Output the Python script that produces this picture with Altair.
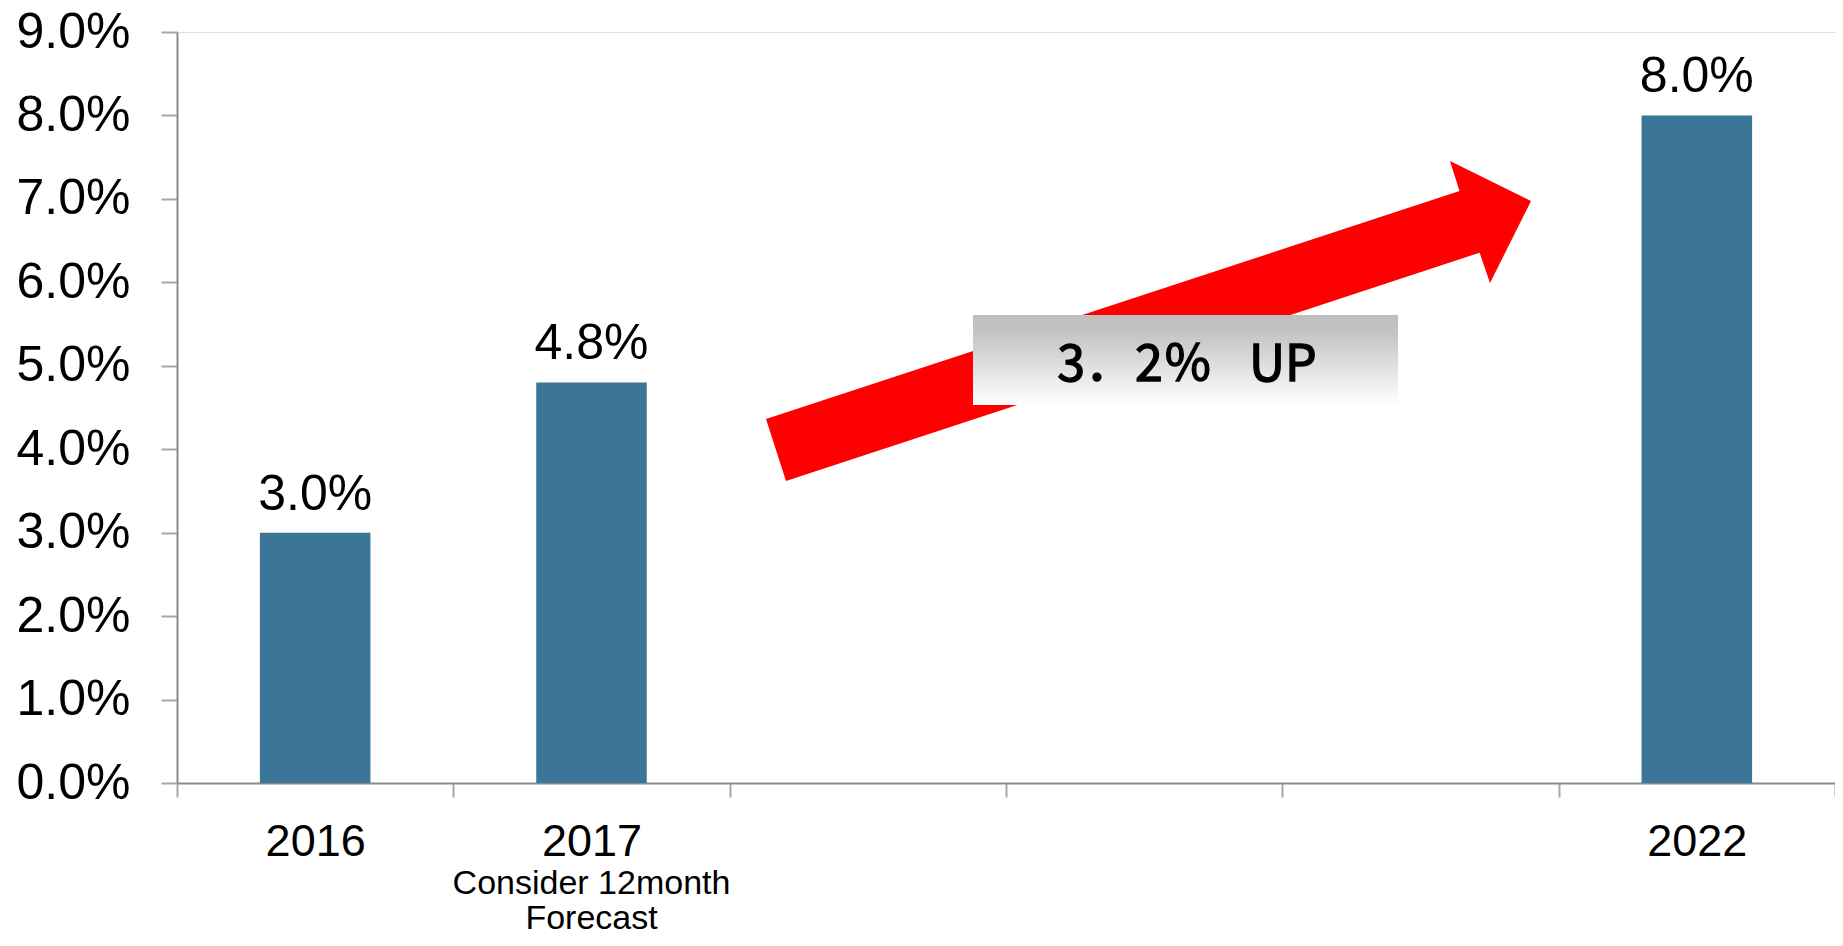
import altair as alt
import pandas as pd

# ---- data ----
categories = ["2016", "2017", " ", "  ", "   ", "2022"]
bar_years = ["2016", "2017", "2022"]
bar_values = [0.030, 0.048, 0.080]
bar_labels = ["3.0%", "4.8%", "8.0%"]
y_ticks = [0.00, 0.01, 0.02, 0.03, 0.04, 0.05, 0.06, 0.07, 0.08, 0.09]
note_years = ["2017"]
note_texts = ["Consider 12month\nForecast"]
callout_text = ["3．2％\u2002 UP"]

W, H = 1658, 751
FONT = "Liberation Sans"

bars_df = pd.DataFrame({"year": bar_years, "value": bar_values, "label": bar_labels})
note_df = pd.DataFrame({"year": note_years, "note": note_texts})
callout_df = pd.DataFrame({"text": callout_text})

x_enc = alt.X(
    "year:N",
    scale=alt.Scale(domain=categories, paddingInner=0, paddingOuter=0),
    sort=categories,
    axis=alt.Axis(
        title=None,
        labelAngle=0,
        labelFont=FONT,
        labelFontSize=45,
        labelColor="#000000",
        labelPadding=22,
        tickBand="extent",
        tickSize=14,
        tickWidth=2,
        tickColor="#a6a6a6",
        domainColor="#8a8a8a",
        domainWidth=2,
        grid=False,
    ),
)

y_enc = alt.Y(
    "value:Q",
    scale=alt.Scale(domain=[0, 0.09], nice=False, zero=True),
    axis=alt.Axis(
        title=None,
        values=y_ticks,
        format=".1%",
        labelFont=FONT,
        labelFontSize=50,
        labelColor="#000000",
        labelPadding=31,
        tickSize=16,
        tickWidth=2,
        tickColor="#a6a6a6",
        domainColor="#8a8a8a",
        domainWidth=2,
        grid=False,
    ),
)

bars = alt.Chart(bars_df).mark_bar(width={"band": 0.4}, color="#3b7699").encode(
    x=x_enc, y=y_enc
)

bar_text = alt.Chart(bars_df).mark_text(
    baseline="alphabetic", dy=-23, font=FONT, fontSize=50, color="#000000"
).encode(x=alt.X("year:N", sort=categories), y="value:Q", text="label:N")

notes = alt.Chart(note_df).mark_text(
    baseline="alphabetic", lineBreak="\n", lineHeight=35, font=FONT, fontSize=34,
    color="#000000",
).encode(x=alt.X("year:N", sort=categories), y=alt.value(862), text="note:N")

arrow_path = ("M -382 97 L 311.5 -131 L 302 -161 L 383 -121 "
              "L 342 -39 L 331.6 -69.3 L -362 159 Z")
arrow = alt.Chart(callout_df).mark_point(
    shape=arrow_path, size=4, filled=True, color="#ff0000", opacity=1, strokeWidth=0
).encode(x=alt.value(971), y=alt.value(290))

box = alt.Chart(callout_df).mark_rect(
    color=alt.LinearGradient(
        gradient="linear",
        stops=[
            alt.GradientStop(color="#bebebe", offset=0),
            alt.GradientStop(color="#c4c4c4", offset=0.2),
            alt.GradientStop(color="#ffffff", offset=1),
        ],
        x1=0, x2=0, y1=0, y2=1,
    )
).encode(x=alt.value(796), x2=alt.value(1221), y=alt.value(283), y2=alt.value(373))

box_text = alt.Chart(callout_df).mark_text(
    baseline="alphabetic", align="center", font="Noto Sans CJK JP", fontSize=50,
    color="#000000", stroke="#000000", strokeWidth=1.4,
).encode(x=alt.value(1010), y=alt.value(349), text="text:N")

chart = (
    alt.layer(bars, bar_text, notes, arrow, box, box_text)
    .properties(
        width=W,
        height=H,
        autosize="none",
        padding={"left": 169, "top": 24, "right": 0, "bottom": 155},
    )
    .configure_view(stroke=None)
    .configure(background="#ffffff")
)

chart.save("out.html", embed_options={"renderer": "svg", "actions": False})
